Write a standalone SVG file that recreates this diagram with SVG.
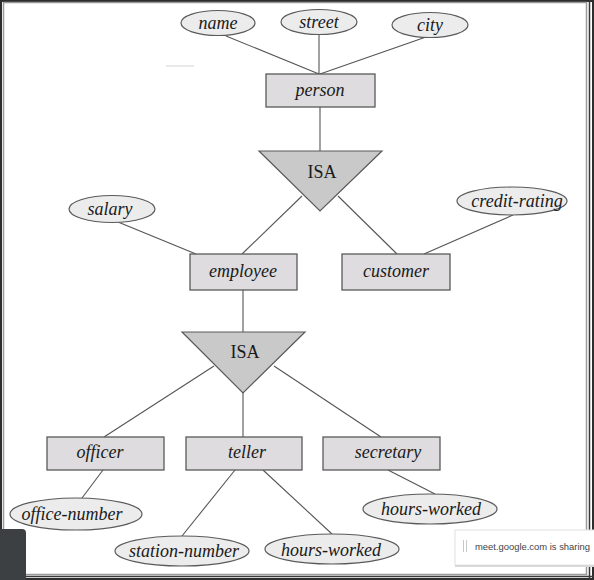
<svg xmlns="http://www.w3.org/2000/svg" width="594" height="580" viewBox="0 0 594 580">
<style>
.ent{fill:#dedcde;stroke:#5a5a5a;stroke-width:1.3}
.att{fill:#ececec;stroke:#5a5a5a;stroke-width:1.2}
.isa{fill:#c9c9c9;stroke:#5a5a5a;stroke-width:1.2}
.t{font-family:"Liberation Serif",serif;font-style:italic;font-size:18px;fill:#1a1a1a;text-anchor:middle}
.ti{font-family:"Liberation Serif",serif;font-size:18px;fill:#1a1a1a;text-anchor:middle}
.c line{stroke:#555;stroke-width:1.1}
</style>
<rect x="0" y="0" width="594" height="580" fill="#ffffff"/>
<!-- frame -->
<rect x="1" y="1" width="592" height="578" fill="none" stroke="#2e2e2e" stroke-width="2"/>
<rect x="3.5" y="2.5" width="583" height="572" fill="none" stroke="#9a9a9a" stroke-width="1.5"/>
<line x1="589.5" y1="0" x2="589.5" y2="580" stroke="#3a3a3a" stroke-width="1.5"/>
<line x1="0" y1="576.5" x2="594" y2="576.5" stroke="#3a3a3a" stroke-width="1.5"/>
<line x1="166" y1="66" x2="194" y2="66" stroke="#e2e2e2" stroke-width="1.5"/>

<g class="c" id="connectors">
<line x1="226" y1="36" x2="319" y2="74"/>
<line x1="319" y1="35" x2="319" y2="74"/>
<line x1="426" y1="37" x2="320" y2="74"/>
<line x1="320" y1="107" x2="320" y2="151"/>
<line x1="118" y1="222" x2="196" y2="254"/>
<line x1="302" y1="196" x2="242" y2="254"/>
<line x1="338" y1="196" x2="397" y2="254"/>
<line x1="513" y1="215" x2="424" y2="254"/>
<line x1="243" y1="290" x2="243" y2="332"/>
<line x1="214" y1="366" x2="104" y2="437"/>
<line x1="243" y1="393" x2="243" y2="437"/>
<line x1="274" y1="366" x2="381" y2="437"/>
<line x1="103" y1="470" x2="82" y2="498"/>
<line x1="235" y1="470" x2="182" y2="536"/>
<line x1="263" y1="470" x2="332" y2="534"/>
<line x1="388" y1="470" x2="435" y2="494"/>
</g>

<g id="name"><ellipse class="att" cx="218" cy="23" rx="37" ry="12.5"/><text class="t" x="218" y="29">name</text></g>
<g id="street"><ellipse class="att" cx="319" cy="22" rx="38" ry="12.5"/><text class="t" x="319" y="28">street</text></g>
<g id="city"><ellipse class="att" cx="430" cy="25" rx="38" ry="12.5"/><text class="t" x="430" y="31">city</text></g>
<g id="person"><rect class="ent" x="266" y="74" width="109" height="33"/><text class="t" x="320" y="96">person</text></g>
<g id="isa1"><polygon class="isa" points="259,151 382,151 320,211"/><text class="ti" x="322" y="178">ISA</text></g>
<g id="salary"><ellipse class="att" cx="112" cy="209" rx="43" ry="13.5"/><text class="t" x="110" y="215">salary</text></g>
<g id="credit-rating"><ellipse class="att" cx="512" cy="201" rx="55" ry="14"/><text class="t" x="517" y="207">credit-rating</text></g>
<g id="employee"><rect class="ent" x="190" y="254" width="107" height="36"/><text class="t" x="243" y="277">employee</text></g>
<g id="customer"><rect class="ent" x="342" y="254" width="108" height="36"/><text class="t" x="396" y="277">customer</text></g>
<g id="isa2"><polygon class="isa" points="182,332 305,332 243,393"/><text class="ti" x="245" y="358">ISA</text></g>
<g id="officer"><rect class="ent" x="47" y="437" width="117" height="33"/><text class="t" x="100" y="458">officer</text></g>
<g id="teller"><rect class="ent" x="186" y="437" width="116" height="33"/><text class="t" x="247" y="458">teller</text></g>
<g id="secretary"><rect class="ent" x="323" y="437" width="117" height="33"/><text class="t" x="388" y="458">secretary</text></g>
<g id="office-number"><ellipse class="att" cx="76" cy="514" rx="66" ry="16"/><text class="t" x="72" y="520">office-number</text></g>
<g id="station-number"><ellipse class="att" cx="182" cy="551" rx="67" ry="15"/><text class="t" x="184" y="557">station-number</text></g>
<g id="hours-worked-teller"><ellipse class="att" cx="332" cy="549" rx="67" ry="15"/><text class="t" x="331" y="556">hours-worked</text></g>
<g id="hours-worked-secretary"><ellipse class="att" cx="430" cy="509" rx="67" ry="15"/><text class="t" x="431" y="515">hours-worked</text></g>

<!-- overlays -->
<path d="M0,529 H22 Q26,529 26,533 V580 H0 Z" fill="#3c4043"/>
<rect x="455" y="530" width="142" height="35" fill="#ffffff" stroke="#e0e0e0" stroke-width="1"/>
<rect x="455" y="565" width="142" height="2" fill="#d8d8d8"/>
<line x1="463.5" y1="540" x2="463.5" y2="552" stroke="#c8c8c8" stroke-width="1"/>
<line x1="466.5" y1="540" x2="466.5" y2="552" stroke="#c8c8c8" stroke-width="1"/>
<text x="475" y="550" font-family="'Liberation Sans',sans-serif" font-size="9.5" fill="#444" textLength="115" lengthAdjust="spacingAndGlyphs">meet.google.com is sharing</text>
</svg>
